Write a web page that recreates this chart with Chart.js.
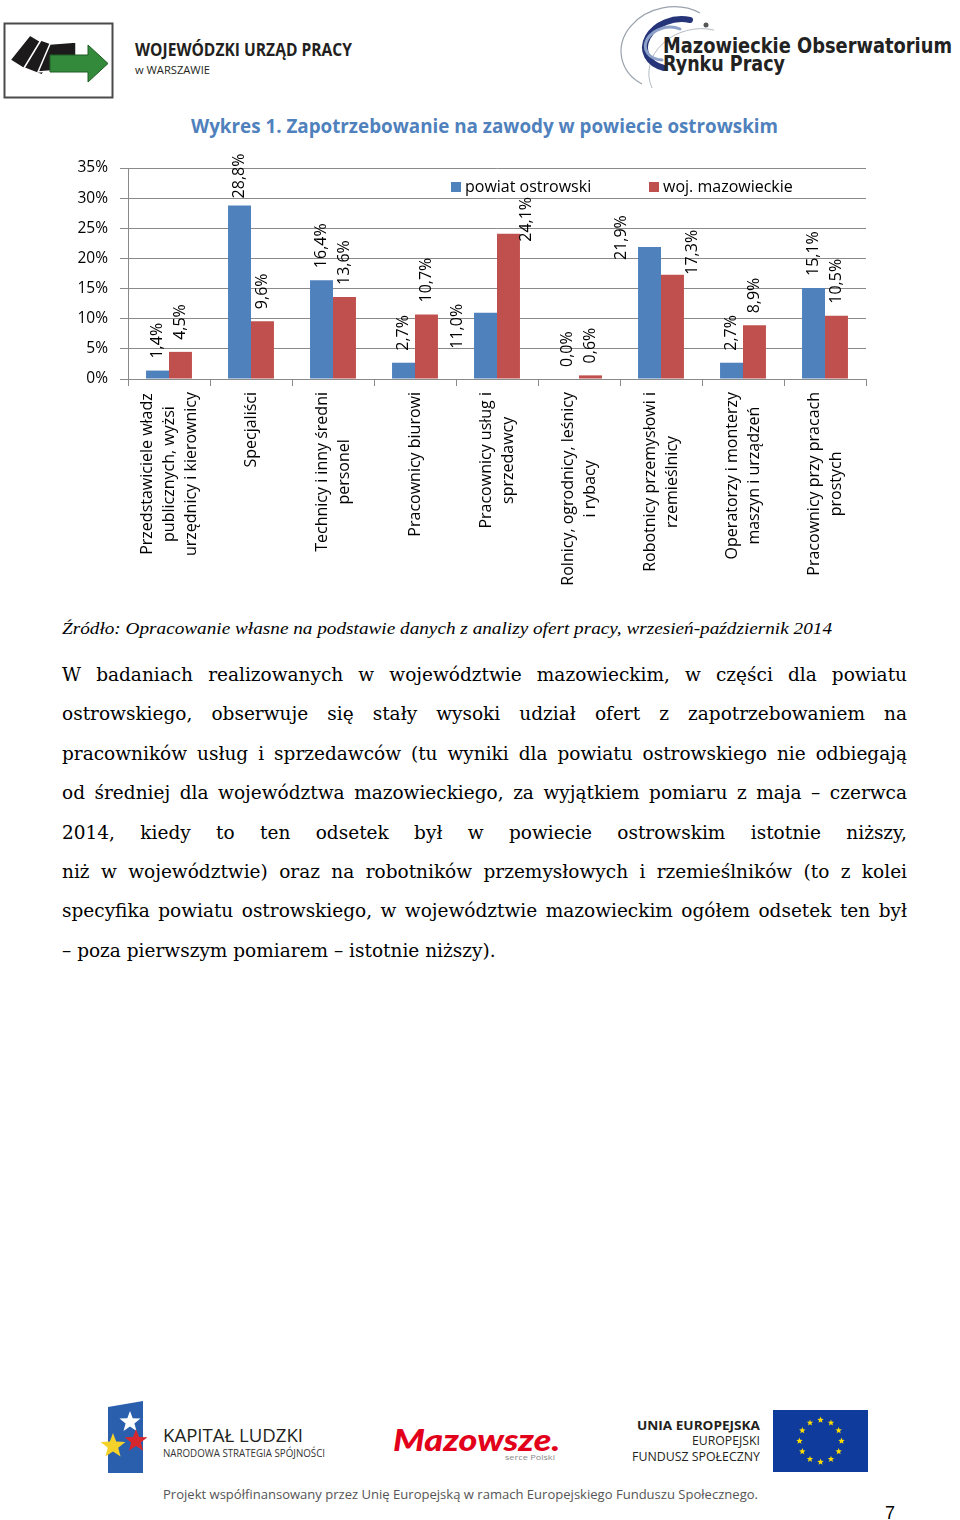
<!DOCTYPE html>
<html lang="pl">
<head>
<meta charset="utf-8">
<title>Wykres 1. Zapotrzebowanie na zawody w powiecie ostrowskim</title>
<script src="https://cdn.jsdelivr.net/npm/chart.js@4.4.1/dist/chart.umd.min.js"></script>
<style>
  html, body { margin: 0; padding: 0; background: #fff; }
  #page { position: relative; width: 960px; height: 1520px; overflow: hidden; }
  #deco { position: absolute; left: 0; top: 0; }
  #chartBox { position: absolute; left: 0; top: 140px; width: 960px; height: 470px; }
  #para { position: absolute; left: 62px; top: 655px; width: 845px;
          font-family: "DejaVu Serif", serif; font-size: 18.5px; line-height: 39.4px; color: #000; }
  #para div { white-space: nowrap; }
  #para div.j { text-align: justify; text-align-last: justify; white-space: normal; }
</style>
</head>
<body>
<div id="page">
  <svg id="deco" width="960" height="1520" xmlns="http://www.w3.org/2000/svg">
    <!-- naglowek: WUP -->
    <rect x="4.5" y="23.5" width="108" height="74" fill="#fff" stroke="#4a4a4a" stroke-width="2"/>
    <g fill="#1c1a1a" stroke="#fff" stroke-width="1.5">
      <polygon points="10,60 30,35 45,44 26,70"/>
      <polygon points="24,68 41,40 58,46 42,75"/>
      <polygon points="38,72 50,44 76,42 76,69"/>
    </g>
    <polygon points="50,55 88,55 88,45 108,63.5 88,82 88,72 50,72" fill="#338a3b" stroke="#1f5c24" stroke-width="1"/>
    <text x="135" y="56" font-family="Open Sans" font-weight="700" font-size="17" fill="#231f20" textLength="217" lengthAdjust="spacingAndGlyphs">WOJEWÓDZKI URZĄD PRACY</text>
    <text x="135" y="74" font-family="Open Sans" font-size="11" fill="#231f20" textLength="75" lengthAdjust="spacingAndGlyphs">w WARSZAWIE</text>

    <!-- naglowek: Obserwatorium -->
    <path d="M 700 13 A 46 38 -10 0 0 642 84" fill="none" stroke="#9aa3ad" stroke-width="1.2"/>
    <path d="M 714 30 A 50 42 -10 0 0 652 88" fill="none" stroke="#b5bcc4" stroke-width="1"/>
    <path d="M 690 20 A 32 24 -15 1 0 664 68" fill="none" stroke="#26357a" stroke-width="6" stroke-linecap="round"/>
    <path d="M 680 29 A 22 16 -15 1 0 662 60" fill="none" stroke="#8ea2c9" stroke-width="3" stroke-linecap="round"/>
    <circle cx="706" cy="25" r="2.5" fill="#555"/>
    <text x="663" y="53" font-family="DejaVu Sans" font-weight="700" font-size="21" fill="#222" textLength="289" lengthAdjust="spacingAndGlyphs">Mazowieckie Obserwatorium</text>
    <text x="663" y="71" font-family="DejaVu Sans" font-weight="700" font-size="21" fill="#222" textLength="122" lengthAdjust="spacingAndGlyphs">Rynku Pracy</text>

    <!-- tytul -->
    <text x="191" y="133" font-family="Open Sans" font-weight="700" font-size="20" fill="#4f81bd" textLength="587" lengthAdjust="spacingAndGlyphs">Wykres 1. Zapotrzebowanie na zawody w powiecie ostrowskim</text>

    <!-- zrodlo -->
    <text x="62" y="634" font-family="Liberation Serif" font-style="italic" font-size="17.5" fill="#000" textLength="770" lengthAdjust="spacingAndGlyphs">Źródło: Opracowanie własne na podstawie danych z analizy ofert pracy, wrzesień-październik 2014</text>

    <!-- stopka -->
    <polygon points="108,1407 143,1401 143,1473 108,1473" fill="#2a5fae"/>
    <g id="stars"></g>
    <text x="163" y="1442" font-family="Open Sans" font-size="19" fill="#231f20" textLength="140" lengthAdjust="spacingAndGlyphs">KAPITAŁ LUDZKI</text>
    <text x="163" y="1457" font-family="Open Sans" font-size="10" fill="#333" textLength="162" lengthAdjust="spacingAndGlyphs">NARODOWA STRATEGIA SPÓJNOŚCI</text>
    <text x="393" y="1451" font-family="Lato" font-weight="900" font-style="italic" font-size="30" fill="#e2001a" textLength="167" lengthAdjust="spacingAndGlyphs">Mazowsze.</text>
    <text x="505" y="1460" font-family="Open Sans" font-size="8" fill="#888" textLength="50" lengthAdjust="spacingAndGlyphs">serce Polski</text>
    <text x="637" y="1430" font-family="Open Sans" font-weight="700" font-size="13" fill="#231f20" textLength="123" lengthAdjust="spacingAndGlyphs">UNIA EUROPEJSKA</text>
    <text x="692" y="1445" font-family="Open Sans" font-size="12" fill="#231f20" textLength="68" lengthAdjust="spacingAndGlyphs">EUROPEJSKI</text>
    <text x="632" y="1461" font-family="Open Sans" font-size="12" fill="#231f20" textLength="128" lengthAdjust="spacingAndGlyphs">FUNDUSZ SPOŁECZNY</text>
    <rect x="773" y="1410" width="95" height="62" fill="#0f3c9c"/>
    <g id="euStars" fill="#ffdd00"></g>
    <text x="163" y="1499" font-family="Open Sans" font-size="13" fill="#555" textLength="595" lengthAdjust="spacingAndGlyphs">Projekt współfinansowany  przez Unię Europejską  w ramach Europejskiego Funduszu Społecznego.</text>
    <text x="885" y="1519" font-family="Liberation Sans" font-size="18" fill="#000">7</text>
  </svg>

  <div id="chartBox"><canvas id="chart" width="960" height="470"></canvas></div>

  <div id="para">
    <div class="j">W badaniach realizowanych w województwie mazowieckim, w części dla powiatu</div>
    <div class="j">ostrowskiego, obserwuje się stały wysoki udział ofert z zapotrzebowaniem na</div>
    <div class="j">pracowników usług i sprzedawców (tu wyniki dla powiatu ostrowskiego nie odbiegają</div>
    <div class="j">od średniej dla województwa mazowieckiego, za wyjątkiem pomiaru z maja – czerwca</div>
    <div class="j">2014, kiedy to ten odsetek był w powiecie ostrowskim istotnie niższy,</div>
    <div class="j">niż w województwie) oraz na robotników przemysłowych i rzemieślników (to z kolei</div>
    <div class="j">specyfika powiatu ostrowskiego, w województwie mazowieckim ogółem odsetek ten był</div>
    <div>– poza pierwszym pomiarem – istotnie niższy).</div>
  </div>
</div>

<script>
// dane wykresu
const categories = [
  ["Przedstawiciele władz", "publicznych, wyżsi", "urzędnicy i kierownicy"],
  ["Specjaliści"],
  ["Technicy i inny średni", "personel"],
  ["Pracownicy biurowi"],
  ["Pracownicy usług i", "sprzedawcy"],
  ["Rolnicy, ogrodnicy, leśnicy", "i rybacy"],
  ["Robotnicy przemysłowi i", "rzemieślnicy"],
  ["Operatorzy i monterzy", "maszyn i urządzeń"],
  ["Pracownicy przy pracach", "prostych"],
];
const seriesNames = ["powiat ostrowski", "woj. mazowieckie"];
const powiatValues = [1.4, 28.8, 16.4, 2.7, 11.0, 0.0, 21.9, 2.7, 15.1];
const mazowieckieValues = [4.5, 9.6, 13.6, 10.7, 24.1, 0.6, 17.3, 8.9, 10.5];
const yMin = 0;
const yMax = 35;
const yStep = 5;

const seriesColors = ["#4f81bd", "#c0504d"];
const axisGray = "#8a8a8a";
const fontFamily = "'Open Sans', sans-serif";

// gwiazdki w logotypach
function starPoints(cx, cy, r) {
  const pts = [];
  for (let k = 0; k < 10; k++) {
    const a = -Math.PI / 2 + k * Math.PI / 5;
    const rr = k % 2 === 0 ? r : r * 0.42;
    pts.push((cx + rr * Math.cos(a)).toFixed(1) + "," + (cy + rr * Math.sin(a)).toFixed(1));
  }
  return pts.join(" ");
}
const ns = "http://www.w3.org/2000/svg";
const eu = document.getElementById("euStars");
for (let k = 0; k < 12; k++) {
  const a = k * Math.PI / 6;
  const p = document.createElementNS(ns, "polygon");
  p.setAttribute("points", starPoints(820.5 + 21 * Math.cos(a), 1441 + 21 * Math.sin(a), 3.4));
  eu.appendChild(p);
}
const kl = document.getElementById("stars");
[[130, 1422, 11, "#ffffff"], [136, 1441, 12, "#d7272e"], [113, 1446, 13, "#f5d22a"]].forEach(function (s) {
  const p = document.createElementNS(ns, "polygon");
  p.setAttribute("points", starPoints(s[0], s[1], s[2]));
  p.setAttribute("fill", s[3]);
  kl.appendChild(p);
});

function fmt(v) {
  return v.toFixed(1).replace(".", ",") + "%";
}

// etykiety wartosci nad slupkami (obrocone)
const valueLabels = {
  id: "valueLabels",
  afterDatasetsDraw(chart, args, opts) {
    const ctx = chart.ctx;
    ctx.save();
    ctx.font = "16px " + fontFamily;
    ctx.fillStyle = "#000";
    ctx.textAlign = "left";
    ctx.textBaseline = "middle";
    chart.data.datasets.forEach(function (ds, di) {
      chart.getDatasetMeta(di).data.forEach(function (bar, i) {
        const nudge = opts.nudge[di + "-" + i] || [0, 0];
        ctx.save();
        ctx.translate(bar.x + nudge[0], bar.y - 12 + nudge[1]);
        ctx.rotate(-Math.PI / 2);
        ctx.fillText(fmt(ds.data[i]), 0, 0);
        ctx.restore();
      });
    });
    ctx.restore();
  },
};

// podpisy kategorii (pionowe, wielowierszowe, wysrodkowane)
const categoryLabels = {
  id: "categoryLabels",
  afterDraw(chart) {
    const ctx = chart.ctx;
    const xs = chart.scales.x;
    const top = chart.chartArea.bottom + 13;
    ctx.save();
    ctx.font = "16px " + fontFamily;
    ctx.fillStyle = "#000";
    ctx.textAlign = "center";
    ctx.textBaseline = "middle";
    categories.forEach(function (lines, i) {
      const cx = xs.getPixelForValue(i);
      const maxW = Math.max.apply(null, lines.map(function (l) { return ctx.measureText(l).width; }));
      const cy = top + maxW / 2;
      lines.forEach(function (line, j) {
        ctx.save();
        ctx.translate(cx + (j - (lines.length - 1) / 2) * 22, cy);
        ctx.rotate(-Math.PI / 2);
        ctx.fillText(line, 0, 0);
        ctx.restore();
      });
    });
    ctx.restore();
  },
};

// legenda wewnatrz obszaru wykresu
const innerLegend = {
  id: "innerLegend",
  afterDraw(chart) {
    const ctx = chart.ctx;
    const a = chart.chartArea;
    const offs = [323, 521];
    ctx.save();
    ctx.font = "16px " + fontFamily;
    ctx.textBaseline = "middle";
    ctx.textAlign = "left";
    chart.data.datasets.forEach(function (ds, di) {
      const x = a.left + offs[di];
      const y = a.top + 14;
      ctx.fillStyle = ds.backgroundColor;
      ctx.fillRect(x, y, 10, 10);
      ctx.fillStyle = "#000";
      ctx.fillText(ds.label, x + 14, y + 5);
    });
    ctx.restore();
  },
};

const ctx = document.getElementById("chart").getContext("2d");
new Chart(ctx, {
  type: "bar",
  data: {
    labels: categories,
    datasets: [
      {
        label: seriesNames[0],
        data: powiatValues,
        backgroundColor: seriesColors[0],
      },
      {
        label: seriesNames[1],
        data: mazowieckieValues,
        backgroundColor: seriesColors[1],
      },
    ],
  },
  options: {
    responsive: false,
    animation: false,
    layout: { padding: { top: 28, right: 94, bottom: 0, left: 0 } },
    datasets: {
      bar: { categoryPercentage: 0.56, barPercentage: 1.0 },
    },
    plugins: {
      legend: { display: false },
      tooltip: { enabled: false },
      valueLabels: {
        nudge: { "0-1": [0, 5], "0-4": [-28, 48], "1-4": [18, 20], "0-6": [-28, 25], "1-6": [20, 12] },
      },
    },
    scales: {
      x: {
        afterFit: function (scale) { scale.height = 231; },
        grid: {
          offset: true,
          drawOnChartArea: false,
          color: axisGray,
          tickLength: 7,
        },
        border: { color: axisGray },
        ticks: { display: false },
      },
      y: {
        min: yMin,
        max: yMax,
        afterFit: function (scale) { scale.width = 128; },
        ticks: {
          stepSize: yStep,
          padding: 12,
          color: "#000",
          font: { family: fontFamily, size: 15.5 },
          callback: function (v) { return v + "%"; },
        },
        grid: { color: axisGray, tickLength: 8 },
        border: { color: axisGray },
      },
    },
  },
  plugins: [valueLabels, categoryLabels, innerLegend],
});
</script>
</body>
</html>
